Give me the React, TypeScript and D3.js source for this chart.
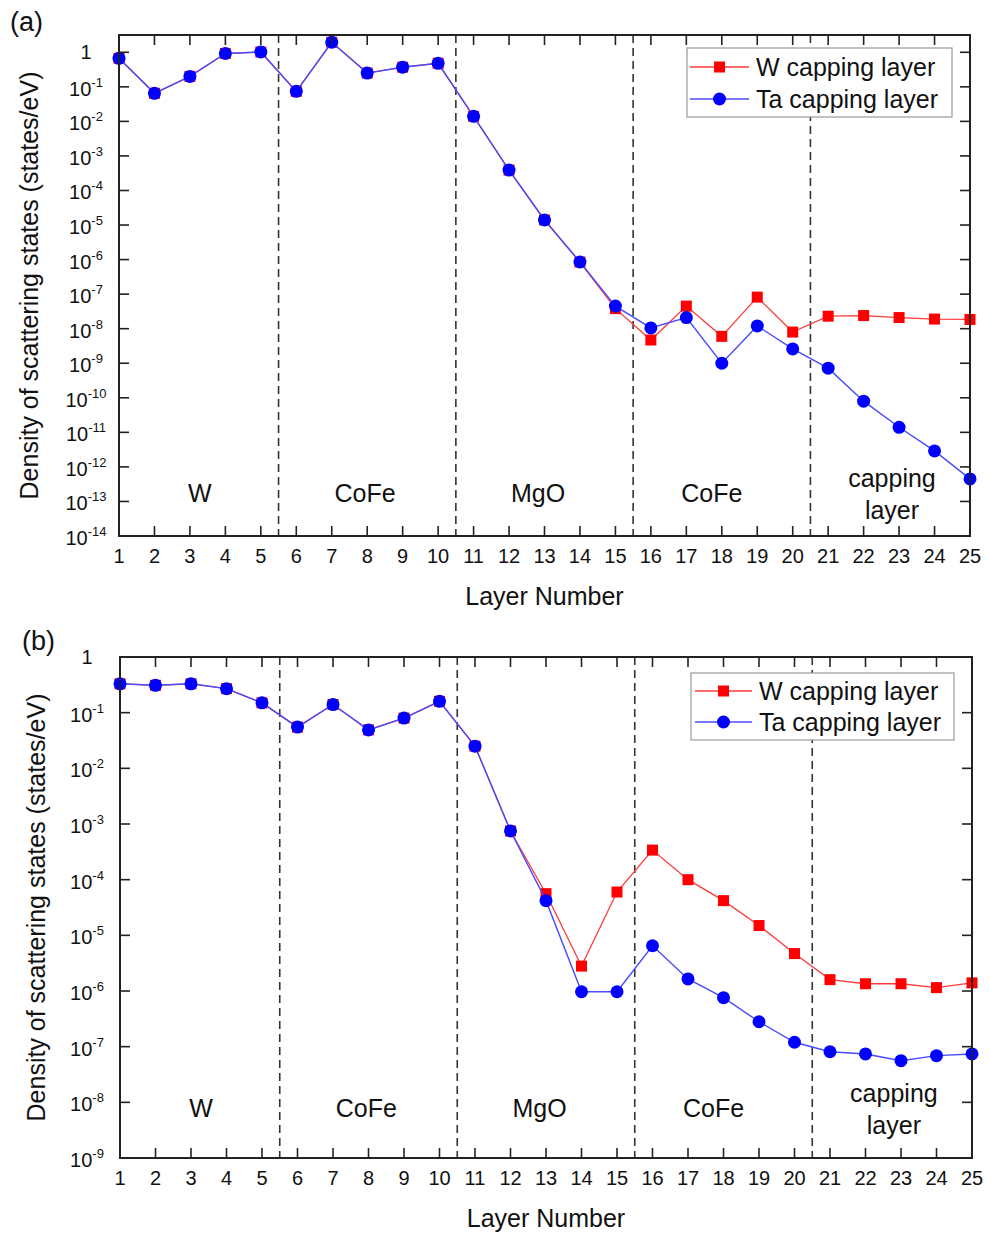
import React from "react";
import * as d3 from "d3";

const layers = [1, 2, 3, 4, 5, 6, 7, 8, 9, 10, 11, 12, 13, 14, 15, 16, 17, 18, 19, 20, 21, 22, 23, 24, 25];

const aWcap = [0.67, 0.065, 0.2, 0.92, 1.02, 0.074, 1.95, 0.25, 0.37, 0.48, 0.014, 3.9e-4, 1.4e-5, 8.5e-7, 3.8e-8, 4.7e-9, 4.5e-8, 6e-9, 8.2e-8, 8e-9, 2.3e-8, 2.4e-8, 2.1e-8, 1.9e-8, 1.85e-8];
const aTacap = [0.67, 0.065, 0.2, 0.92, 1.02, 0.074, 1.95, 0.25, 0.37, 0.48, 0.014, 3.9e-4, 1.4e-5, 8.5e-7, 4.5e-8, 1.05e-8, 2.1e-8, 1e-9, 1.2e-8, 2.6e-9, 7.2e-10, 8e-11, 1.4e-11, 2.9e-12, 4.5e-13];

const bWcap = [0.33, 0.31, 0.33, 0.27, 0.15, 0.055, 0.14, 0.049, 0.08, 0.16, 0.025, 7.5e-4, 5.6e-5, 2.8e-6, 6e-5, 3.4e-4, 1e-4, 4.2e-5, 1.5e-5, 4.7e-6, 1.6e-6, 1.35e-6, 1.35e-6, 1.15e-6, 1.4e-6];
const bTacap = [0.33, 0.31, 0.33, 0.27, 0.15, 0.055, 0.14, 0.049, 0.08, 0.16, 0.025, 7.5e-4, 4.2e-5, 9.7e-7, 9.7e-7, 6.5e-6, 1.65e-6, 7.6e-7, 2.8e-7, 1.2e-7, 8.1e-8, 7.4e-8, 5.6e-8, 6.9e-8, 7.4e-8];

const aExponents = [0, -1, -2, -3, -4, -5, -6, -7, -8, -9, -10, -11, -12, -13, -14];
const bExponents = [0, -1, -2, -3, -4, -5, -6, -7, -8, -9];

const boundaries = [5.5, 10.5, 15.5, 20.5];
const regionNames = ["W", "CoFe", "MgO", "CoFe", "capping|layer"];
const regionCenters = [3.28, 7.94, 12.82, 17.72, 22.8];

const seriesNames = ["W capping layer", "Ta capping layer"];
const RED = "#ff0000";
const BLUE = "#0000ff";
const RED_LINE = "#ff3a3a";
const BLUE_LINE = "#4a4aff";
const FONT = "'Liberation Sans', Arial, sans-serif";

type PanelProps = {
  tag: string;
  tagX: number;
  tagY: number;
  left: number;
  right: number;
  top: number;
  bottom: number;
  yMin: number;
  yMax: number;
  exps: number[];
  w: number[];
  ta: number[];
  tickLabelX: number;
  titleX: number;
  regionY: number;
  legend: { x0: number; x1: number; y0: number; y1: number; lineX0: number; lineX1: number; textX: number; row1: number; row2: number };
};

function Panel(p: PanelProps) {
  const x = d3.scaleLinear().domain([1, 25]).range([p.left, p.right]);
  const y = d3.scaleLog().domain([p.yMin, p.yMax]).range([p.bottom, p.top]);
  const line = d3
    .line<number>()
    .x((_, i) => x(layers[i]))
    .y((d) => y(d));
  const tickLen = 10;
  const sq = 11;
  const r = 6.5;
  const midX = (p.left + p.right) / 2;
  const midY = (p.top + p.bottom) / 2;
  return (
    <g fontFamily={FONT} fill="#111">
      <text x={p.tagX} y={p.tagY} fontSize={27}>
        {p.tag}
      </text>
      {boundaries.map((b) => (
        <line key={b} x1={x(b)} x2={x(b)} y1={p.top} y2={p.bottom} stroke="#333" strokeWidth={1.6} strokeDasharray="8,5" />
      ))}
      <path d={line(p.w) || ""} fill="none" stroke={RED_LINE} strokeWidth={1.3} />
      {p.w.map((v, i) => (
        <rect key={"w" + i} x={x(layers[i]) - sq / 2} y={y(v) - sq / 2} width={sq} height={sq} fill={RED} />
      ))}
      <path d={line(p.ta) || ""} fill="none" stroke={BLUE_LINE} strokeWidth={1.4} />
      {p.ta.map((v, i) => (
        <circle key={"t" + i} cx={x(layers[i])} cy={y(v)} r={r} fill={BLUE} />
      ))}
      <rect x={p.left} y={p.top} width={p.right - p.left} height={p.bottom - p.top} fill="none" stroke="#222" strokeWidth={2} />
      {layers.map((l) => (
        <g key={"xt" + l}>
          <line x1={x(l)} x2={x(l)} y1={p.bottom} y2={p.bottom - tickLen} stroke="#222" strokeWidth={1.6} />
          <line x1={x(l)} x2={x(l)} y1={p.top} y2={p.top + tickLen} stroke="#222" strokeWidth={1.6} />
          <text x={x(l)} y={p.bottom + 27} fontSize={20} textAnchor="middle">
            {l}
          </text>
        </g>
      ))}
      {p.exps.map((e) => {
        const yy = y(Math.pow(10, e));
        return (
          <g key={"yt" + e}>
            <line x1={p.left} x2={p.left + tickLen} y1={yy} y2={yy} stroke="#222" strokeWidth={1.6} />
            <line x1={p.right} x2={p.right - tickLen} y1={yy} y2={yy} stroke="#222" strokeWidth={1.6} />
            {e === 0 ? (
              <text x={p.tickLabelX} y={yy + 7} fontSize={20} textAnchor="middle">
                1
              </text>
            ) : (
              <text x={p.tickLabelX} y={yy + 9} fontSize={20} textAnchor="middle">
                10
                <tspan fontSize={13} dy={-9}>
                  {String(e)}
                </tspan>
              </text>
            )}
          </g>
        );
      })}
      {regionNames.map((n, i) => {
        const parts = n.split("|");
        if (parts.length === 1) {
          return (
            <text key={"r" + i} x={x(regionCenters[i])} y={p.regionY + 9} fontSize={25} textAnchor="middle">
              {n}
            </text>
          );
        }
        return (
          <text key={"r" + i} x={x(regionCenters[i])} y={p.regionY - 6} fontSize={25} textAnchor="middle">
            <tspan x={x(regionCenters[i])}>{parts[0]}</tspan>
            <tspan x={x(regionCenters[i])} dy={32}>
              {parts[1]}
            </tspan>
          </text>
        );
      })}
      <text x={midX} y={p.bottom + 69} fontSize={25} textAnchor="middle">
        Layer Number
      </text>
      <text transform={`translate(${p.titleX},${midY}) rotate(-90)`} fontSize={25} textAnchor="middle">
        Density of scattering states (states/eV)
      </text>
      <rect x={p.legend.x0} y={p.legend.y0} width={p.legend.x1 - p.legend.x0} height={p.legend.y1 - p.legend.y0} fill="#fff" stroke="#999" strokeWidth={1.2} />
      <line x1={p.legend.lineX0} x2={p.legend.lineX1} y1={p.legend.row1} y2={p.legend.row1} stroke={RED_LINE} strokeWidth={1.3} />
      <rect x={(p.legend.lineX0 + p.legend.lineX1) / 2 - sq / 2} y={p.legend.row1 - sq / 2} width={sq} height={sq} fill={RED} />
      <text x={p.legend.textX} y={p.legend.row1 + 9} fontSize={25}>
        {seriesNames[0]}
      </text>
      <line x1={p.legend.lineX0} x2={p.legend.lineX1} y1={p.legend.row2} y2={p.legend.row2} stroke={BLUE_LINE} strokeWidth={1.4} />
      <circle cx={(p.legend.lineX0 + p.legend.lineX1) / 2} cy={p.legend.row2} r={r} fill={BLUE} />
      <text x={p.legend.textX} y={p.legend.row2 + 9} fontSize={25}>
        {seriesNames[1]}
      </text>
    </g>
  );
}

export default function App() {
  return (
    <svg width={990} height={1236} style={{ position: "absolute", left: 0, top: 0, background: "#fff" }}>
      <rect width={990} height={1236} fill="#fff" />
      <Panel
        tag="(a)"
        tagX={10}
        tagY={31}
        left={119}
        right={970}
        top={35}
        bottom={536}
        yMin={1e-14}
        yMax={Math.pow(10, 0.5)}
        exps={aExponents}
        w={aWcap}
        ta={aTacap}
        tickLabelX={86}
        titleX={38}
        regionY={493}
        legend={{ x0: 687, x1: 952, y0: 48, y1: 117, lineX0: 690, lineX1: 749, textX: 756, row1: 67, row2: 99 }}
      />
      <Panel
        tag="(b)"
        tagX={22}
        tagY={650}
        left={120}
        right={972}
        top={657}
        bottom={1158}
        yMin={1e-9}
        yMax={1}
        exps={bExponents}
        w={bWcap}
        ta={bTacap}
        tickLabelX={87}
        titleX={45}
        regionY={1108}
        legend={{ x0: 691, x1: 954, y0: 673, y1: 740, lineX0: 695, lineX1: 752, textX: 759, row1: 691, row2: 722 }}
      />
    </svg>
  );
}
